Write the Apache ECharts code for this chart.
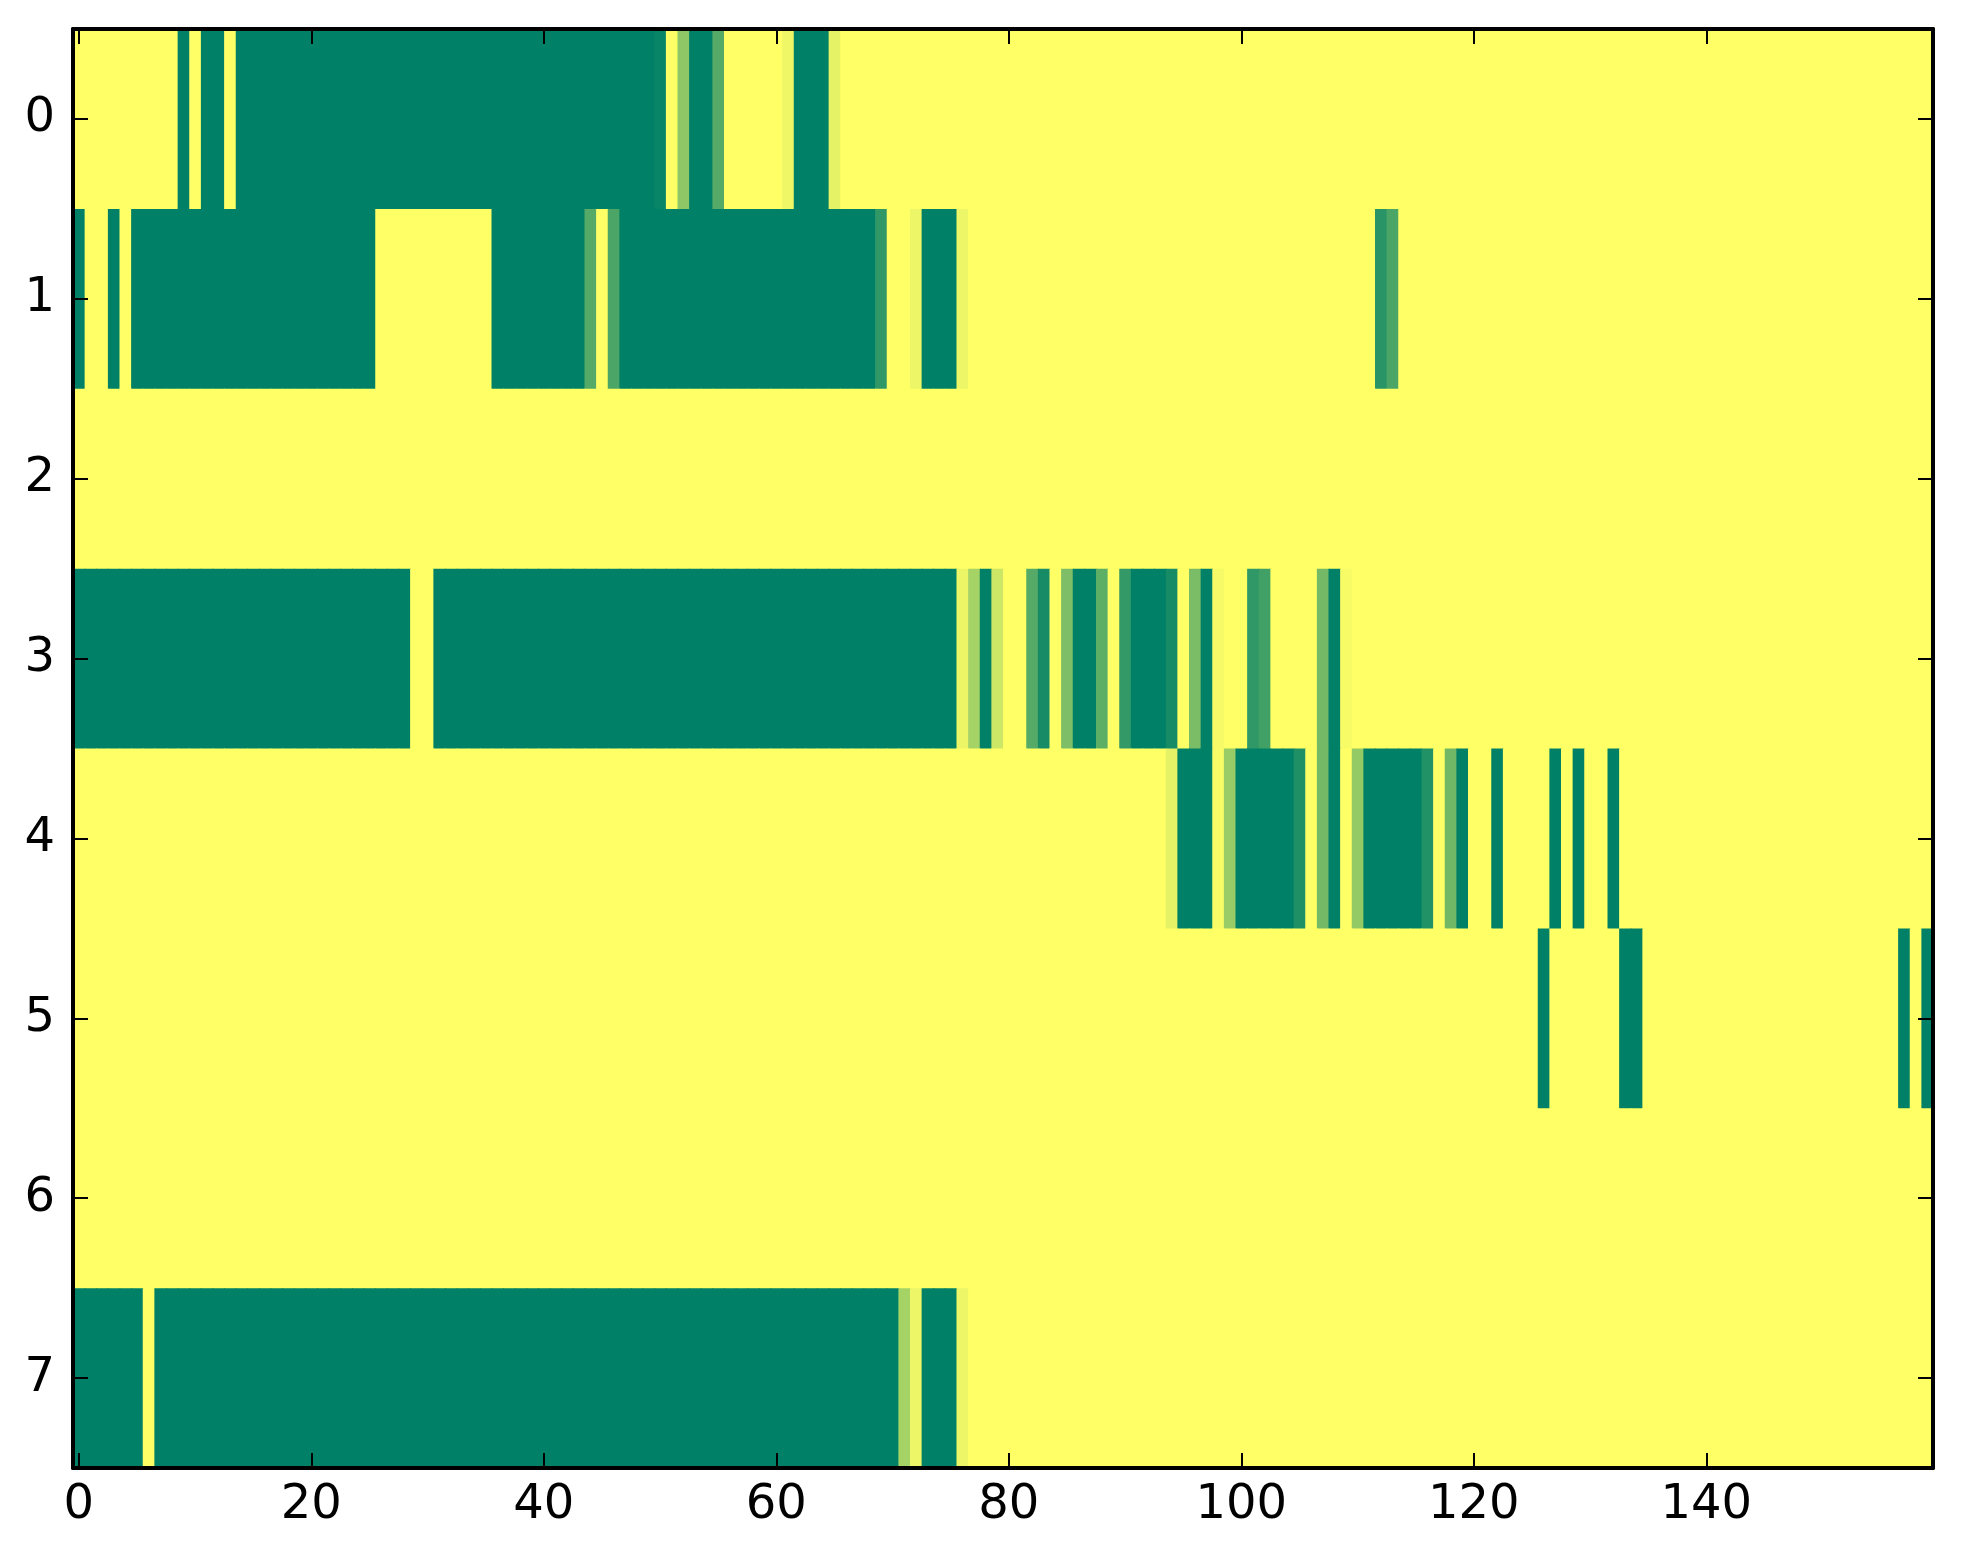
<!DOCTYPE html>
<html>
<head>
<meta charset="utf-8">
<script src="https://cdn.jsdelivr.net/npm/echarts@6/dist/echarts.min.js"></script>
<style>
html,body{margin:0;padding:0;background:#fff;}
#chart{width:1963px;height:1564px;}
</style>
</head>
<body>
<div id="chart"></div>
<script>
// x categories 0..159, y categories 0..7
const xCategories = Array.from({length: 160}, (_, i) => String(i));
const yCategories = ['0','1','2','3','4','5','6','7'];

const row0 = [
1,1,1,1,1,1,1,1,1,0, 1,0,0,1,0,0,0,0,0,0,
0,0,0,0,0,0,0,0,0,0, 0,0,0,0,0,0,0,0,0,0,
0,0,0,0,0,0,0,0,0,0, 0.03,1,0.56,0,0,0.33,1,1,1,1,
1,0.94,0,0,0,0.9,1,1,1,1, 1,1,1,1,1,1,1,1,1,1,
1,1,1,1,1,1,1,1,1,1, 1,1,1,1,1,1,1,1,1,1,
1,1,1,1,1,1,1,1,1,1, 1,1,1,1,1,1,1,1,1,1,
1,1,1,1,1,1,1,1,1,1, 1,1,1,1,1,1,1,1,1,1,
1,1,1,1,1,1,1,1,1,1, 1,1,1,1,1,1,1,1,1,1
];
const row1 = [
0,1,1,0,1,0,0,0,0,0, 0,0,0,0,0,0,0,0,0,0,
0,0,0,0,0,0,1,1,1,1, 1,1,1,1,1,1,0,0,0,0,
0,0,0,0,0.33,1,0.29,0,0,0, 0,0,0,0,0,0,0,0,0,0,
0,0,0,0,0,0,0,0,0,0.19, 1,1,0.93,0,0,0,0.93,1,1,1,
1,1,1,1,1,1,1,1,1,1, 1,1,1,1,1,1,1,1,1,1,
1,1,1,1,1,1,1,1,1,1, 1,1,0.16,0.29,1,1,1,1,1,1,
1,1,1,1,1,1,1,1,1,1, 1,1,1,1,1,1,1,1,1,1,
1,1,1,1,1,1,1,1,1,1, 1,1,1,1,1,1,1,1,1,1
];
const row2 = [
1,1,1,1,1,1,1,1,1,1, 1,1,1,1,1,1,1,1,1,1,
1,1,1,1,1,1,1,1,1,1, 1,1,1,1,1,1,1,1,1,1,
1,1,1,1,1,1,1,1,1,1, 1,1,1,1,1,1,1,1,1,1,
1,1,1,1,1,1,1,1,1,1, 1,1,1,1,1,1,1,1,1,1,
1,1,1,1,1,1,1,1,1,1, 1,1,1,1,1,1,1,1,1,1,
1,1,1,1,1,1,1,1,1,1, 1,1,1,1,1,1,1,1,1,1,
1,1,1,1,1,1,1,1,1,1, 1,1,1,1,1,1,1,1,1,1,
1,1,1,1,1,1,1,1,1,1, 1,1,1,1,1,1,1,1,1,1
];
const row3 = [
0,0,0,0,0,0,0,0,0,0, 0,0,0,0,0,0,0,0,0,0,
0,0,0,0,0,0,0,0,0,1, 1,0,0,0,0,0,0,0,0,0,
0,0,0,0,0,0,0,0,0,0, 0,0,0,0,0,0,0,0,0,0,
0,0,0,0,0,0,0,0,0,0, 0,0,0,0,0,0,0.92,0.65,0,0.8,
1,1,0.33,0.09,1,0.49,0,0,0.37,1, 0.2,0,0,0,0.09,1,0.48,0,0.96,1,
1,0.19,0.25,1,1,1,1,0.45,0,0.97, 1,1,1,1,1,1,1,1,1,1,
1,1,1,1,1,1,1,1,1,1, 1,1,1,1,1,1,1,1,1,1,
1,1,1,1,1,1,1,1,1,1, 1,1,1,1,1,1,1,1,1,1
];
const row4 = [
1,1,1,1,1,1,1,1,1,1, 1,1,1,1,1,1,1,1,1,1,
1,1,1,1,1,1,1,1,1,1, 1,1,1,1,1,1,1,1,1,1,
1,1,1,1,1,1,1,1,1,1, 1,1,1,1,1,1,1,1,1,1,
1,1,1,1,1,1,1,1,1,1, 1,1,1,1,1,1,1,1,1,1,
1,1,1,1,1,1,1,1,1,1, 1,1,1,1,0.9,0,0,0,0.97,0.6,
0,0,0,0,0,0.12,1,0.45,0,1, 0.58,0,0,0,0,0,0.13,1,0.44,0,
1,1,0,1,1,1,1,0,1,0, 1,1,0,1,1,1,1,1,1,1,
1,1,1,1,1,1,1,1,1,1, 1,1,1,1,1,1,1,1,1,1
];
const row5 = [
1,1,1,1,1,1,1,1,1,1, 1,1,1,1,1,1,1,1,1,1,
1,1,1,1,1,1,1,1,1,1, 1,1,1,1,1,1,1,1,1,1,
1,1,1,1,1,1,1,1,1,1, 1,1,1,1,1,1,1,1,1,1,
1,1,1,1,1,1,1,1,1,1, 1,1,1,1,1,1,1,1,1,1,
1,1,1,1,1,1,1,1,1,1, 1,1,1,1,1,1,1,1,1,1,
1,1,1,1,1,1,1,1,1,1, 1,1,1,1,1,1,1,1,1,1,
1,1,1,1,1,1,0,1,1,1, 1,1,1,0,0,1,1,1,1,1,
1,1,1,1,1,1,1,1,1,1, 1,1,1,1,1,1,1,0,1,0
];
const row6 = [
1,1,1,1,1,1,1,1,1,1, 1,1,1,1,1,1,1,1,1,1,
1,1,1,1,1,1,1,1,1,1, 1,1,1,1,1,1,1,1,1,1,
1,1,1,1,1,1,1,1,1,1, 1,1,1,1,1,1,1,1,1,1,
1,1,1,1,1,1,1,1,1,1, 1,1,1,1,1,1,1,1,1,1,
1,1,1,1,1,1,1,1,1,1, 1,1,1,1,1,1,1,1,1,1,
1,1,1,1,1,1,1,1,1,1, 1,1,1,1,1,1,1,1,1,1,
1,1,1,1,1,1,1,1,1,1, 1,1,1,1,1,1,1,1,1,1,
1,1,1,1,1,1,1,1,1,1, 1,1,1,1,1,1,1,1,1,1
];
const row7 = [
0,0,0,0,0,0,1,0,0,0, 0,0,0,0,0,0,0,0,0,0,
0,0,0,0,0,0,0,0,0,0, 0,0,0,0,0,0,0,0,0,0,
0,0,0,0,0,0,0,0,0,0, 0,0,0,0,0,0,0,0,0,0,
0,0,0,0,0,0,0,0,0,0, 0,0.65,0.93,0,0,0,0.93,1,1,1,
1,1,1,1,1,1,1,1,1,1, 1,1,1,1,1,1,1,1,1,1,
1,1,1,1,1,1,1,1,1,1, 1,1,1,1,1,1,1,1,1,1,
1,1,1,1,1,1,1,1,1,1, 1,1,1,1,1,1,1,1,1,1,
1,1,1,1,1,1,1,1,1,1, 1,1,1,1,1,1,1,1,1,1
];
const rows = [row0, row1, row2, row3, row4, row5, row6, row7];

const cells = [];
rows.forEach((r, y) => r.forEach((v, x) => cells.push([x, y, v])));

const tickEvery20 = (i) => i % 20 === 0;
const FONT = 'DejaVu Sans';

function renderCell(params, api) {
  const p = api.coord([api.value(0), api.value(1)]);
  const s = api.size([1, 1]);
  return {
    type: 'rect',
    shape: {x: p[0] - s[0] / 2, y: p[1] - s[1] / 2, width: s[0] + 0.8, height: s[1] + 0.8},
    style: {fill: api.visual('color')}
  };
}

const frameLine = {show: true, onZero: false, lineStyle: {color: '#000', width: 4}};
const xTick = {show: true, inside: true, length: 15, alignWithLabel: true, interval: tickEvery20,
               lineStyle: {color: '#000', width: 2}};
const yTick = {show: true, inside: true, length: 15, alignWithLabel: true, interval: 0,
               lineStyle: {color: '#000', width: 2}};

const chart = echarts.init(document.getElementById('chart'), null, {renderer: 'canvas'});
chart.setOption({
  animation: false,
  backgroundColor: '#ffffff',
  grid: {left: 73, right: 30, top: 29, bottom: 96, containLabel: false},
  xAxis: [
    {
      type: 'category', data: xCategories, position: 'bottom', zlevel: 1, z: 10,
      axisLine: frameLine, axisTick: xTick,
      axisLabel: {interval: tickEvery20, margin: 14, color: '#000', fontSize: 48, fontFamily: FONT},
      splitLine: {show: false}
    },
    {
      type: 'category', data: xCategories, position: 'top', zlevel: 1, z: 10,
      axisLine: frameLine, axisTick: xTick,
      axisLabel: {show: false},
      splitLine: {show: false}
    }
  ],
  yAxis: [
    {
      type: 'category', data: yCategories, inverse: true, position: 'left', zlevel: 1, z: 10,
      axisLine: frameLine, axisTick: yTick,
      axisLabel: {interval: 0, margin: 18, color: '#000', fontSize: 48, fontFamily: FONT},
      splitLine: {show: false}
    },
    {
      type: 'category', data: yCategories, inverse: true, position: 'right', zlevel: 1, z: 10,
      axisLine: frameLine, axisTick: yTick,
      axisLabel: {show: false},
      splitLine: {show: false}
    }
  ],
  visualMap: {
    show: false, type: 'continuous', min: 0, max: 1, dimension: 2, seriesIndex: 0,
    inRange: {color: ['#008066', '#ffff66']}
  },
  series: [{
    type: 'custom', xAxisIndex: 0, yAxisIndex: 0,
    data: cells,
    encode: {x: 0, y: 1},
    renderItem: renderCell,
    clip: true,
    z: 2
  }]
});
</script>
</body>
</html>
